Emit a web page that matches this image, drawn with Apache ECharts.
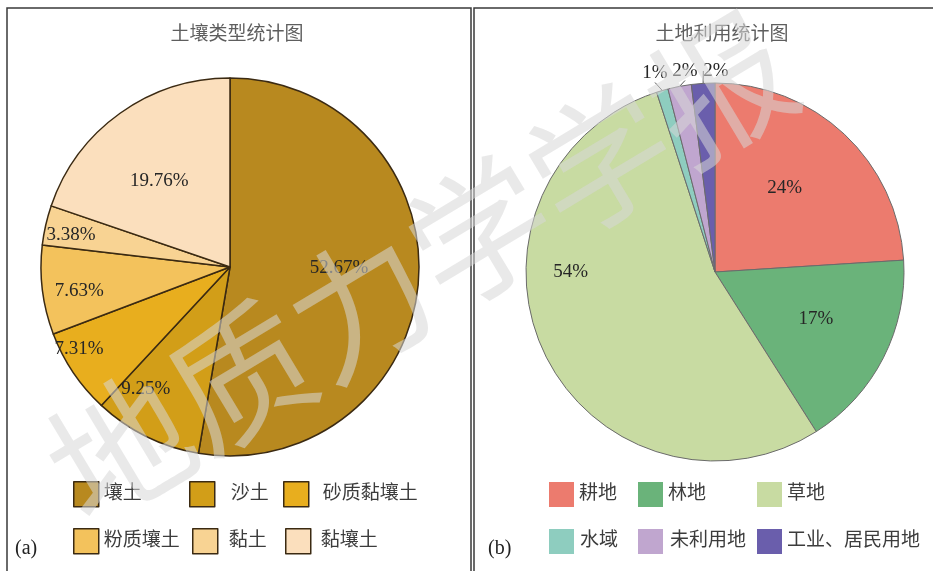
<!DOCTYPE html>
<html>
<head>
<meta charset="utf-8">
<script src="https://cdn.jsdelivr.net/npm/echarts@6/dist/echarts.min.js"></script>
<style>
  html, body { margin: 0; padding: 0; background: #fff; }
  #chart { width: 933px; height: 571px; }
</style>
</head>
<body>
<div id="chart"></div>
<script>
// Soil type shares (%)
const soilNames = ['壤土', '沙土', '砂质黏壤土', '粉质壤土', '黏土', '黏壤土'];
const soilValues = [52.67, 9.25, 7.31, 7.63, 3.38, 19.76];

// Land use shares (%)
const landNames = ['耕地', '林地', '草地', '水域', '未利用地', '工业、居民用地'];
const landValues = [24, 17, 54, 1, 2, 2];

const panelTitles = ['土壤类型统计图', '土地利用统计图'];
const panelTags = ['(a)', '(b)'];

// ---- styling ----
const soilColors = ['#B8891F', '#D29E18', '#E8AE1E', '#F3C25C', '#F8D393', '#FBDFBD'];
const landColors = ['#EC7B6E', '#6AB37A', '#C8DBA2', '#8ECDBF', '#C0A6CF', '#6A5EAC'];

const serif = '"Liberation Serif", "Times New Roman", "Noto Sans CJK SC", serif';
const textColor = '#262626';

// label nudges (px) away from the default mid-radius spot
const soilLabelShift = [[12, -7], [-41, 35], [-70, 28], [-54, 12], [-64, -10], [-14, -7]];
const landLabelShift = [[3, -13], [14, 3], [-56, -41]];
// labels for the thin slices sit above the rim
const landOuterLabelAt = [[655, 73], [685, 71], [716, 71]];

// legend slots: [iconLeft, iconTop, extra gap before text]
const soilLegendSlots = [[73, 481, 0], [189, 481, 11], [283, 481, 9],
                         [73, 528, 0], [192, 528, 6], [285, 528, 5]];
const landLegendSlots = [[549, 482, 0], [638, 482, 0], [757, 482, 0],
                         [549, 529, 1], [638, 529, 2], [757, 529, 0]];

const soilCenter = [230, 267];
const landCenter = [715, 272];
const pieRadius = 189;

function buildLegends(names, slots, withBorder) {
  return names.map((name, i) => ({
    data: [name],
    left: slots[i][0],
    top: slots[i][1],
    orient: 'horizontal',
    icon: 'rect',
    itemWidth: 25,
    itemHeight: 25,
    selectedMode: false,
    padding: 0,
    itemStyle: withBorder ? { borderColor: '#3b2a12', borderWidth: 1.5 } : { borderWidth: 0 },
    textStyle: {
      fontFamily: serif,
      fontSize: 19,
      color: '#3c3c3c',
      padding: [0, 0, 0, slots[i][2]]
    }
  }));
}

const chart = echarts.init(document.getElementById('chart'), null, { renderer: 'canvas' });

chart.setOption({
  backgroundColor: '#fff',
  animation: false,
  title: [
    {
      text: panelTitles[0], left: 232, top: 21, textAlign: 'center',
      textStyle: { fontFamily: serif, fontSize: 19, fontWeight: 'normal', color: '#5e5e5e' }
    },
    {
      text: panelTitles[1], left: 717, top: 21, textAlign: 'center',
      textStyle: { fontFamily: serif, fontSize: 19, fontWeight: 'normal', color: '#5e5e5e' }
    }
  ],
  legend: buildLegends(soilNames, soilLegendSlots, true)
    .concat(buildLegends(landNames, landLegendSlots, false)),
  series: [
    {
      name: panelTitles[0],
      type: 'pie',
      center: soilCenter,
      radius: pieRadius,
      startAngle: 90,
      clockwise: true,
      silent: true,
      data: soilNames.map((n, i) => ({
        name: n, value: soilValues[i], itemStyle: { color: soilColors[i] }
      })),
      itemStyle: { borderColor: '#3b2a12', borderWidth: 1.5 },
      label: {
        show: true,
        position: 'inside',
        formatter: p => p.value.toFixed(2) + '%',
        fontFamily: serif,
        fontSize: 19,
        color: textColor
      },
      labelLine: { show: false },
      labelLayout: p => {
        const s = soilLabelShift[p.dataIndex];
        return { dx: s[0], dy: s[1] };
      }
    },
    {
      name: panelTitles[1],
      type: 'pie',
      center: landCenter,
      radius: pieRadius,
      startAngle: 90,
      clockwise: true,
      silent: true,
      data: landNames.map((n, i) => ({
        name: n,
        value: landValues[i],
        itemStyle: { color: landColors[i] },
        label: { position: i < 3 ? 'inside' : 'outside' },
        labelLine: { show: i >= 3 }
      })),
      itemStyle: { borderColor: '#6b6b6b', borderWidth: 1 },
      label: {
        show: true,
        formatter: '{c}%',
        fontFamily: serif,
        fontSize: 19,
        color: textColor
      },
      labelLine: {
        length: 10, length2: 0,
        lineStyle: { color: '#555', width: 1 }
      },
      labelLayout: p => {
        if (p.dataIndex < 3) {
          const s = landLabelShift[p.dataIndex];
          return { dx: s[0], dy: s[1] };
        }
        const at = landOuterLabelAt[p.dataIndex - 3];
        return { x: at[0], y: at[1], align: 'center', verticalAlign: 'middle' };
      }
    }
  ],
  graphic: [
    // panel frames
    {
      type: 'rect', z: 0, silent: true,
      shape: { x: 7, y: 8, width: 464, height: 620 },
      style: { fill: 'none', stroke: '#3a3a3a', lineWidth: 1.5 }
    },
    {
      type: 'rect', z: 0, silent: true,
      shape: { x: 474, y: 8, width: 520, height: 620 },
      style: { fill: 'none', stroke: '#3a3a3a', lineWidth: 1.5 }
    },
    // panel tags
    {
      type: 'text', x: 15, y: 549, silent: true,
      style: { text: panelTags[0], font: '20px ' + serif, fill: '#222', verticalAlign: 'middle' }
    },
    {
      type: 'text', x: 488, y: 549, silent: true,
      style: { text: panelTags[1], font: '20px ' + serif, fill: '#222', verticalAlign: 'middle' }
    },
    // journal watermark
    {
      type: 'text', x: 420, y: 268, rotation: 31 * Math.PI / 180, z: 100, silent: true,
      style: {
        text: '地质力学学报',
        font: '140px "Noto Sans CJK SC"',
        fill: 'rgba(215,215,215,0.55)',
        align: 'center',
        verticalAlign: 'middle'
      }
    }
  ]
});
</script>
</body>
</html>
